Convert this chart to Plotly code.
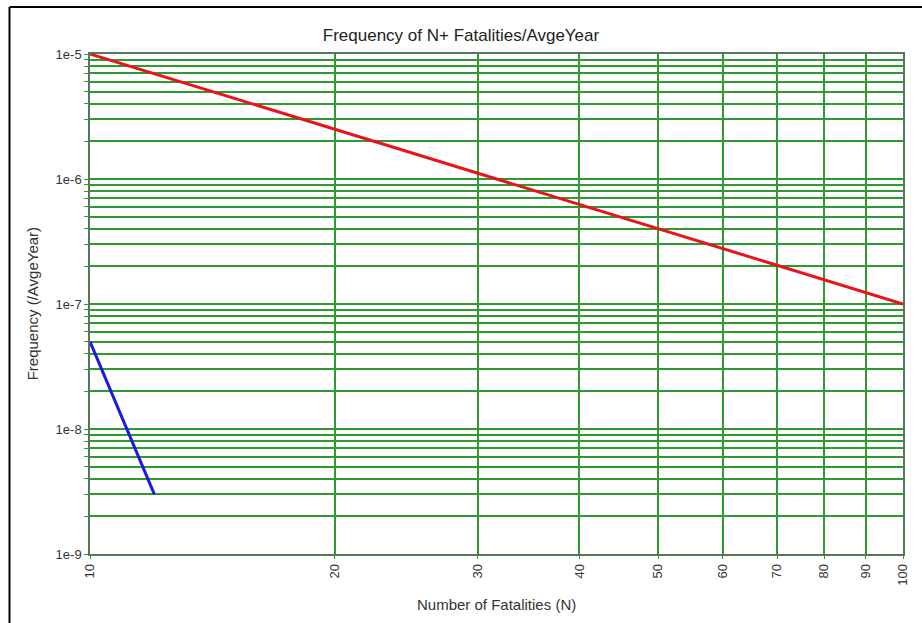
import plotly.graph_objects as go

# Data
red_n = [10, 100]
red_f = [1e-5, 1e-7]
blue_n = [10, 12]
blue_f = [5e-8, 3e-9]

x_ticks = [10, 20, 30, 40, 50, 60, 70, 80, 90, 100]
x_labels = ["10", "20", "30", "40", "50", "60", "70", "80", "90", "100"]
decades = [1e-9, 1e-8, 1e-7, 1e-6, 1e-5]
decade_labels = ["1e-9", "1e-8", "1e-7", "1e-6", "1e-5"]

y_ticks, y_labels = [], []
for d, lab in zip(decades, decade_labels):
    if d < 1e-5:
        for m in range(1, 10):
            y_ticks.append(m * d)
            y_labels.append(lab if m == 1 else "")
    else:
        y_ticks.append(d)
        y_labels.append(lab)

grid = "#2f9a2f"
font = "Liberation Sans, Arial, sans-serif"

L, R, T, B = 90, 908, 54, 554
PW, PH = R - L, B - T

fig = go.Figure()
fig.add_trace(go.Scatter(x=red_n, y=red_f, mode="lines",
                         line=dict(color="#e8141b", width=3), showlegend=False))
fig.add_trace(go.Scatter(x=blue_n, y=blue_f, mode="lines",
                         line=dict(color="#1a1ae0", width=3), showlegend=False))

fig.update_layout(
    width=922, height=623,
    margin=dict(l=L, r=922 - R, t=T, b=623 - B),
    paper_bgcolor="white", plot_bgcolor="white",
    font=dict(family=font, color="#333333"),
    title=dict(text="Frequency of N+ Fatalities/AvgeYear", x=0.5, xanchor="center",
               y=1 - 35 / 623, yanchor="middle", yref="container",
               font=dict(size=17, color="#222222")),
    xaxis=dict(type="log", range=[1, 2], tickmode="array", tickvals=x_ticks,
               ticktext=x_labels, tickangle=-90, showgrid=True, gridcolor=grid,
               gridwidth=1.5, showline=True, linecolor="#557755", linewidth=1.5,
               mirror=True, ticks="outside", ticklen=3, tickcolor=grid,
               tickfont=dict(size=13, color="#333333"), zeroline=False),
    yaxis=dict(type="log", range=[-9, -5], tickmode="array", tickvals=y_ticks,
               ticktext=y_labels, showgrid=True, gridcolor=grid, gridwidth=1.5,
               showline=True, linecolor="#557755", linewidth=1.5, mirror=True,
               ticks="outside", ticklen=4, tickcolor=grid,
               tickfont=dict(size=13, color="#333333"), zeroline=False),
    annotations=[
        dict(text="Number of Fatalities (N)", xref="paper", yref="paper",
             x=(499 - L) / PW, y=(B - 604) / PH, xanchor="center",
             yanchor="middle", showarrow=False, font=dict(size=15, color="#333333")),
        dict(text="Frequency (/AvgeYear)", xref="paper", yref="paper",
             x=(32 - L) / PW, y=0.5, xanchor="center", yanchor="middle",
             textangle=-90, showarrow=False, font=dict(size=15, color="#333333")),
    ],
    shapes=[
        dict(type="line", xref="paper", yref="paper", x0=(9 - L) / PW, x1=(9 - L) / PW,
             y0=(B - 640) / PH, y1=1 + (T - 7) / PH, line=dict(color="black", width=2)),
        dict(type="line", xref="paper", yref="paper", x0=(9 - L) / PW, x1=(930 - L) / PW,
             y0=1 + (T - 7) / PH, y1=1 + (T - 7) / PH, line=dict(color="black", width=2)),
    ],
)

fig.write_html("out.html", config={"displayModeBar": False},
               post_script="document.body.style.margin='0px';")
